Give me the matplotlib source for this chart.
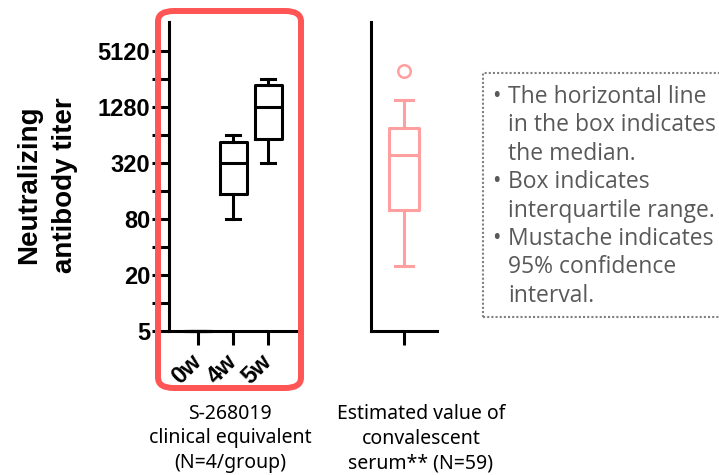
import matplotlib
matplotlib.use("Agg")
import matplotlib.pyplot as plt
from matplotlib.patches import FancyBboxPatch, Rectangle
from matplotlib.ticker import FixedLocator, NullFormatter

# ---------------- data ----------------
groups = ["0w", "4w", "5w"]
whisker_low = [5, 80, 320]
q1 = [5, 147, 576]
median = [5, 320, 1280]
q3 = [5, 540, 2180]
whisker_high = [5, 640, 2560]

conv_whisker_low = 25
conv_q1 = 100
conv_median = 390
conv_q3 = 760
conv_whisker_high = 1540
conv_outliers = [3130]

y_ticks = [5, 20, 80, 320, 1280, 5120]
y_minor = [10, 40, 160, 640, 2560]

left_caption = "S-268019\nclinical equivalent\n(N=4/group)"
right_caption = "Estimated value of\nconvalescent\nserum** (N=59)"
ylabel = "Neutralizing\nantibody titer"
notes = [
    ["The horizontal line", "in the box indicates", "the median."],
    ["Box indicates", "interquartile range."],
    ["Mustache indicates", "95% confidence", "interval."],
]

# ---------------- layout helpers ----------------
W, H = 719, 475
fig = plt.figure(figsize=(W / 100, H / 100), dpi=100)
plt.rcParams["font.family"] = ["Liberation Sans", "DejaVu Sans"]


def fx(px):
    return px / W


def fy(py):
    return 1 - py / H


LW = 2.2
PINK = "#ff9f9f"
RED = "#ff5555"
GREY = "#595959"
YMAX = 5 * 2 ** (309 / 28)

# ---------------- left axes ----------------
ax1 = fig.add_axes([fx(169), fy(331), (300 - 169) / W, (331 - 22) / H])
stats = []
for g, lo, a, m, b, hi in zip(groups, whisker_low, q1, median, q3, whisker_high):
    stats.append(dict(label=g, whislo=lo, q1=a, med=m, q3=b, whishi=hi, fliers=[]))
arts = ax1.bxp(stats, positions=range(len(groups)), widths=0.77, capwidths=0.4,
               showfliers=False, manage_ticks=False,
               boxprops=dict(color="black", linewidth=LW),
               whiskerprops=dict(color="black", linewidth=LW),
               capprops=dict(color="black", linewidth=LW),
               medianprops=dict(color="black", linewidth=LW))
for k in arts:
    for a in arts[k]:
        a.set_clip_on(False)

ax1.set_yscale("log", base=2)
ax1.set_ylim(5, YMAX)
ax1.set_xlim(-0.83, 2.91)
ax1.yaxis.set_major_locator(FixedLocator(y_ticks))
ax1.yaxis.set_minor_locator(FixedLocator(y_minor))
ax1.yaxis.set_minor_formatter(NullFormatter())
ax1.set_yticklabels([str(v) for v in y_ticks], fontsize=17, fontweight="bold")
ax1.set_xticks(range(len(groups)))
ax1.set_xticklabels(groups, fontsize=17, fontweight="bold", rotation=45,
                    ha="right", va="center", rotation_mode="anchor")
ax1.tick_params(axis="y", which="major", length=12, width=LW, pad=1.5, direction="out")
ax1.tick_params(axis="y", which="minor", length=12, width=LW, direction="out")
ax1.tick_params(axis="x", length=10, width=LW, pad=9.5, direction="out")
for s in ["top", "right"]:
    ax1.spines[s].set_visible(False)
for s in ["left", "bottom"]:
    ax1.spines[s].set_linewidth(LW)

# ---------------- right axes ----------------
ax2 = fig.add_axes([fx(371), fy(331), (437 - 371) / W, (331 - 22) / H])
cstats = [dict(label="", whislo=conv_whisker_low, q1=conv_q1, med=conv_median,
               q3=conv_q3, whishi=conv_whisker_high, fliers=conv_outliers)]
ax2.bxp(cstats, positions=[0], widths=0.91, capwidths=0.52, showfliers=True,
        manage_ticks=False,
        boxprops=dict(color=PINK, linewidth=LW),
        whiskerprops=dict(color=PINK, linewidth=LW),
        capprops=dict(color=PINK, linewidth=LW),
        medianprops=dict(color=PINK, linewidth=LW),
        flierprops=dict(marker="o", markerfacecolor="none", markeredgecolor=PINK,
                        markersize=9, markeredgewidth=1.8))
ax2.set_yscale("log", base=2)
ax2.set_ylim(5, YMAX)
ax2.set_xlim(-1, 1)
ax2.set_yticks([])
ax2.yaxis.set_minor_locator(FixedLocator([]))
ax2.set_xticks([0])
ax2.set_xticklabels([""])
ax2.tick_params(axis="x", length=10, width=LW, direction="out")
for s in ["top", "right"]:
    ax2.spines[s].set_visible(False)
for s in ["left", "bottom"]:
    ax2.spines[s].set_linewidth(LW)

# ---------------- red rounded frame ----------------
frame = FancyBboxPatch((fx(158), fy(388)), (301 - 158) / W, (388 - 11) / H,
                       boxstyle="round,pad=0,rounding_size=0.022",
                       transform=fig.transFigure, fill=False, edgecolor=RED,
                       linewidth=4.3, zorder=10)
fig.patches.append(frame)

# ---------------- labels ----------------
fig.text(fx(47), fy(185), ylabel, rotation=90, ha="center", va="center",
         fontsize=20, fontweight="bold", linespacing=1.5)
fig.text(fx(230), fy(404), left_caption, ha="center", va="top", fontsize=14,
         family=["Noto Sans", "DejaVu Sans"], linespacing=1.3)
fig.text(fx(421), fy(404), right_caption, ha="center", va="top", fontsize=14,
         family=["Noto Sans", "DejaVu Sans"], linespacing=1.3)

# ---------------- notes box ----------------
box = Rectangle((fx(483), fy(317)), (760 - 483) / W, (317 - 73) / H,
                transform=fig.transFigure, fill=False, edgecolor="#808080",
                linestyle=(0, (1, 1)), linewidth=1.5, clip_on=False)
fig.patches.append(box)
line_h = 28.4
line_idx = 0
for note in notes:
    for j, line in enumerate(note):
        yb = 103 + line_idx * line_h
        if j == 0:
            fig.text(fx(492), fy(yb), "\u2022", ha="left", va="baseline",
                     fontsize=16.5, color=GREY, family=["Open Sans", "DejaVu Sans"])
        fig.text(fx(508), fy(yb), line, ha="left", va="baseline", fontsize=16.5,
                 color=GREY, family=["Open Sans", "DejaVu Sans"])
        line_idx += 1

fig.savefig("out.png", dpi=100)
